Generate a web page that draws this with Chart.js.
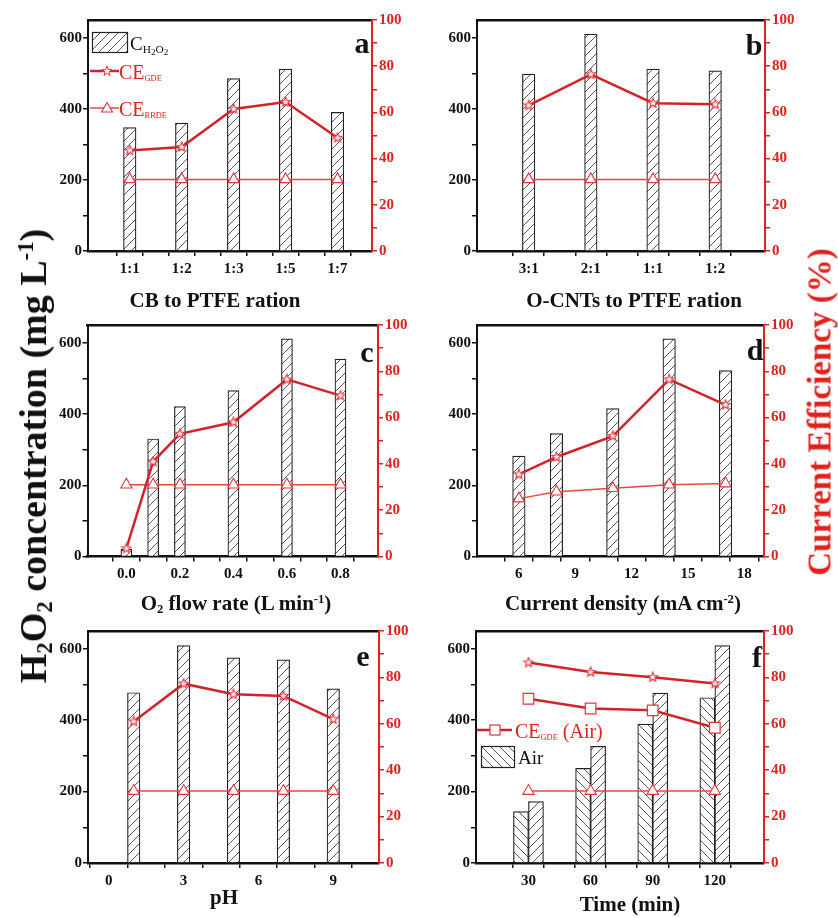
<!DOCTYPE html>
<html><head><meta charset="utf-8">
<script src="https://cdn.jsdelivr.net/npm/chart.js@4.4.1/dist/chart.umd.min.js"></script>
<style>
body{margin:0;background:#fff;width:838px;height:918px;overflow:hidden;position:relative;font-family:'Liberation Serif','Times New Roman',serif;}
canvas{position:absolute;}
.t{position:absolute;white-space:nowrap;line-height:1;color:#111;}
.b{font-weight:bold;}
.c{transform:translate(-50%,-50%);}
.l{transform:translateY(-50%);}
.rot{transform:translate(-50%,-50%) rotate(-90deg);}
.red{color:#e3211c;}
sub,sup{font-size:0.6em;line-height:0;}
sub{vertical-align:-0.25em;}
sup{vertical-align:0.55em;}
sub sub{font-size:0.8em;}
.ce sub{font-size:0.42em;}
svg{position:absolute;overflow:visible;}
</style></head>
<body>
<canvas id="pa"></canvas><canvas id="pb"></canvas><canvas id="pc"></canvas>
<canvas id="pd"></canvas><canvas id="pe"></canvas><canvas id="pf"></canvas>

<div class="t b c" style="left:215px;top:300px;font-size:21px">CB to PTFE ration</div>
<div class="t b c" style="left:634px;top:300px;font-size:21px">O-CNTs to PTFE ration</div>
<div class="t b c" style="left:236px;top:603px;font-size:21px">O<sub>2</sub> flow rate (L min<sup>-1</sup>)</div>
<div class="t b c" style="left:623px;top:603px;font-size:21px">Current density (mA cm<sup>-2</sup>)</div>
<div class="t b c" style="left:224px;top:897px;font-size:21px">pH</div>
<div class="t b c" style="left:630px;top:904px;font-size:21px">Time (min)</div>

<div class="t b c" style="left:362px;top:43px;font-size:30px">a</div>
<div class="t b c" style="left:754px;top:45px;font-size:30px">b</div>
<div class="t b c" style="left:367px;top:352px;font-size:30px">c</div>
<div class="t b c" style="left:755px;top:350px;font-size:30px">d</div>
<div class="t b c" style="left:363px;top:656px;font-size:30px">e</div>
<div class="t b c" style="left:757px;top:657px;font-size:30px">f</div>

<div class="t b rot" style="left:33px;top:456px;font-size:38px">H<sub>2</sub>O<sub>2</sub> concentration (mg L<sup>-1</sup>)</div>
<div class="t b rot red" style="left:820px;top:412px;font-size:33px">Current Efficiency (%)</div>

<!-- legend a -->
<svg width="0" height="0"><defs>
<pattern id="hf" width="9" height="9" patternUnits="userSpaceOnUse"><rect width="9" height="9" fill="#fff"/><path d="M0 9L9 0M-1 1L1 -1M8 10L10 8" stroke="#444" stroke-width="0.9"/></pattern>
<pattern id="hb" width="9" height="9" patternUnits="userSpaceOnUse"><rect width="9" height="9" fill="#fff"/><path d="M0 0L9 9M-1 8L1 10M8 -1L10 1" stroke="#444" stroke-width="0.9"/></pattern>
</defs></svg>
<svg style="left:92px;top:32px" width="36" height="21"><rect x="0.5" y="0.5" width="35" height="20" fill="url(#hf)" stroke="#222" stroke-width="1.2"/></svg>
<div class="t" style="left:130px;top:43px;font-size:19px;transform:translateY(-50%)">C<sub>H<sub>2</sub>O<sub>2</sub></sub></div>
<svg style="left:90px;top:64px" width="30" height="14"><line x1="0" y1="7" x2="29" y2="7" stroke="#d3232a" stroke-width="2.5"/><polygon points="17,2 18.3,5.6 22,5.6 19,7.9 20.1,11.5 17,9.3 13.9,11.5 15,7.9 12,5.6 15.7,5.6" fill="#fff0f0" stroke="#e8323c" stroke-width="1"/></svg>
<div class="t red ce" style="left:119px;top:72px;font-size:20px;transform:translateY(-50%)">CE<sub>GDE</sub></div>
<svg style="left:90px;top:100px" width="30" height="16"><line x1="0" y1="8" x2="29" y2="8" stroke="#e8463f" stroke-width="1.5"/><polygon points="17,2.5 22.5,12 11.5,12" fill="#fff" stroke="#e8323c" stroke-width="1.1"/></svg>
<div class="t red ce" style="left:119px;top:109px;font-size:20px;transform:translateY(-50%)">CE<sub>RRDE</sub></div>

<!-- legend f -->
<svg style="left:477px;top:722px" width="36" height="16"><line x1="0" y1="8" x2="35" y2="8" stroke="#d3232a" stroke-width="2.5"/><rect x="13" y="3" width="10" height="10" fill="#fff" stroke="#e8323c" stroke-width="1.2"/></svg>
<div class="t red ce" style="left:515px;top:731px;font-size:20px;transform:translateY(-50%)">CE<sub>GDE</sub> (Air)</div>
<svg style="left:481px;top:746px" width="34" height="22"><rect x="0.5" y="0.5" width="33" height="21" fill="url(#hb)" stroke="#222" stroke-width="1.2"/></svg>
<div class="t" style="left:518px;top:757px;font-size:19px;transform:translateY(-50%)">Air</div>

<script>
// ---------------- data ----------------
const concTicks = [0, 200, 400, 600];
const concMinor = [100, 300, 500];
const ceTicks = [0, 20, 40, 60, 80, 100];
const ceMinor = [10, 30, 50, 70, 90];

// (a) CB to PTFE ratio
const aCategories = ['1:1', '1:2', '1:3', '1:5', '1:7'];
const aConc = [347, 360, 485, 512, 390];
const aCEgde = [43.5, 45, 61.5, 64.5, 49];
const aCErrde = [31, 31, 31, 31, 31];
const aMinor = [1.5, 2.5, 3.5, 4.5];

// (b) O-CNTs to PTFE ratio
const bCategories = ['3:1', '2:1', '1:1', '1:2'];
const bConc = [498, 610, 512, 507];
const bCEgde = [63, 76.5, 64, 63.5];
const bCErrde = [31, 31, 31, 31];
const bMinor = [1.5, 2.5, 3.5];

// (c) O2 flow rate
const cFlow = [0, 0.1, 0.2, 0.4, 0.6, 0.8];
const cConc = [20, 330, 421, 466, 611, 554];
const cCEgde = [3.5, 41, 53, 58, 76.5, 69.5];
const cCErrde = [31, 31, 31, 31, 31, 31];
const cTicks = [0, 0.2, 0.4, 0.6, 0.8];
const cMinor = [0.1, 0.3, 0.5, 0.7];

// (d) current density
const dCurrent = [6, 8, 11, 14, 17];
const dConc = [282, 345, 415, 611, 522];
const dCEgde = [35.5, 43, 52, 76.5, 65.5];
const dCErrde = [25, 28, 29.5, 31, 31.5];
const dTicks = [6, 9, 12, 15, 18];
const dMinor = [7.5, 10.5, 13.5, 16.5];

// (e) pH
const ePH = [1, 3, 5, 7, 9];
const eConc = [477, 609, 575, 569, 488];
const eCEgde = [61, 77.3, 72.7, 72, 62];
const eCErrde = [31, 31, 31, 31, 31];
const eTicks = [0, 3, 6, 9];
const eMinor = [1.5, 4.5, 7.5];

// (f) time
const fTime = [30, 60, 90, 120];
const fConcAir = [144, 265, 389, 463];
const fConcO2 = [172, 327, 476, 609];
const fCEgdeO2 = [86.4, 82.3, 80.1, 77.4];
const fCEgdeAir = [70.8, 66.6, 65.8, 58.3];
const fCErrde = [31, 31, 31, 31];
const fTicks = [30, 60, 90, 120];
const fMinor = [45, 75, 105];

// ---------------- styling helpers ----------------
const FONT = "'Liberation Serif','Times New Roman',serif";
const RED = '#e3211c';
const GDE = '#d3232a';
const RRDE = '#e8463f';
const MK = '#e8323c';

function hatch(dir) {
  const c = document.createElement('canvas');
  c.width = c.height = 9;
  const g = c.getContext('2d');
  g.fillStyle = '#fff'; g.fillRect(0, 0, 9, 9);
  g.strokeStyle = '#444'; g.lineWidth = 0.9;
  g.beginPath();
  if (dir > 0) { g.moveTo(0, 9); g.lineTo(9, 0); g.moveTo(-1, 1); g.lineTo(1, -1); g.moveTo(8, 10); g.lineTo(10, 8); }
  else { g.moveTo(0, 0); g.lineTo(9, 9); g.moveTo(-1, 8); g.lineTo(1, 10); g.moveTo(8, -1); g.lineTo(10, 1); }
  g.stroke();
  return g.createPattern(c, 'repeat');
}
function starImg(size) {
  const c = document.createElement('canvas');
  c.width = c.height = size;
  const g = c.getContext('2d');
  const cx = size / 2, cy = size / 2, R = size / 2 - 1, r = R * 0.45;
  g.beginPath();
  for (let i = 0; i < 10; i++) {
    const a = -Math.PI / 2 + i * Math.PI / 5;
    const rr = i % 2 ? r : R;
    g.lineTo(cx + rr * Math.cos(a), cy + rr * Math.sin(a));
  }
  g.closePath();
  g.fillStyle = '#fff0f0'; g.fill();
  g.strokeStyle = MK; g.lineWidth = 1.1; g.stroke();
  return c;
}
const FWD = hatch(1), BACK = hatch(-1), STAR = starImg(12);

function pts(xs, ys) { return xs.map((x, i) => ({ x: x, y: ys[i] })); }
function barDS(xs, ys, pat, thick) {
  return { type: 'bar', data: pts(xs, ys), backgroundColor: pat, borderColor: '#222', borderWidth: 1.2,
           barThickness: thick, yAxisID: 'y', order: 2 };
}
function gdeLine(xs, ys, style) {
  return { type: 'line', data: pts(xs, ys), borderColor: GDE, borderWidth: 2.5, tension: 0, yAxisID: 'y2', order: 1,
           pointStyle: style || STAR, pointRadius: style ? 7.5 : 6, pointBorderColor: MK, pointBackgroundColor: '#fff',
           pointBorderWidth: 1.2 };
}
function rrdeLine(xs, ys) {
  return { type: 'line', data: pts(xs, ys), borderColor: RRDE, borderWidth: 1.5, tension: 0, yAxisID: 'y2', order: 1,
           pointStyle: 'triangle', pointRadius: 6.5, pointBorderColor: MK, pointBackgroundColor: '#fff', pointBorderWidth: 1.1 };
}
function setTicks(list) { return (s) => { s.ticks = list.map(v => ({ value: v })); }; }

function panel(id, box, area, cfg) {
  const cv = document.getElementById(id);
  cv.width = box.w; cv.height = box.h;
  cv.style.left = box.x + 'px'; cv.style.top = box.y + 'px';
  const yl = area.l - box.x, yr = box.x + box.w - area.r, pt = area.t - box.y, xh = box.y + box.h - area.b;
  const font = { family: FONT, weight: 'bold', size: 15 };
  const xAll = cfg.xMajor.concat(cfg.xMinor).sort((a, b) => a - b);
  new Chart(cv, {
    type: 'bar',
    data: { datasets: cfg.datasets },
    options: {
      responsive: false, animation: false, events: [], devicePixelRatio: 1,
      layout: { padding: { top: pt, left: 0, right: 0, bottom: 0 } },
      plugins: { legend: { display: false }, tooltip: { enabled: false } },
      scales: {
        x: { type: 'linear', position: 'bottom', min: cfg.xMin, max: cfg.xMax,
             afterBuildTicks: setTicks(xAll), afterFit: (s) => { s.height = xh; },
             grid: { display: true, drawOnChartArea: false, drawTicks: true, tickLength: 5, color: '#111', lineWidth: 1.5 },
             border: { display: true, color: '#111', width: 2.5 },
             ticks: { autoSkip: false, maxRotation: 0, padding: 4, color: '#111', font: font,
                      callback: (v) => cfg.xMajor.includes(v) ? cfg.xLabel(v) : '' } },
        xTop: { type: 'linear', position: 'top', min: 0, max: 1, display: true,
                afterFit: (s) => { s.height = 0; },
                ticks: { display: false }, grid: { display: false, drawTicks: false },
                border: { display: true, color: '#111', width: 2.5 } },
        y: { type: 'linear', position: 'left', min: 0, max: 650,
             afterBuildTicks: setTicks(concTicks.concat(concMinor).sort((a, b) => a - b)),
             afterFit: (s) => { s.width = yl; },
             grid: { display: true, drawOnChartArea: false, drawTicks: true, tickLength: 5, color: '#111', lineWidth: 1.5 },
             border: { display: true, color: '#111', width: 2 },
             ticks: { autoSkip: false, padding: 1, color: '#111', font: font,
                      callback: (v) => concTicks.includes(v) ? String(v) : '' } },
        y2: { type: 'linear', position: 'right', min: 0, max: 100,
              afterBuildTicks: setTicks(ceTicks.concat(ceMinor).sort((a, b) => a - b)),
              afterFit: (s) => { s.width = yr; },
              grid: { display: true, drawOnChartArea: false, drawTicks: true, tickLength: 5, color: RED, lineWidth: 1.5 },
              border: { display: true, color: RED, width: 2 },
              ticks: { autoSkip: false, padding: 2, color: RED, font: font,
                       callback: (v) => ceTicks.includes(v) ? String(v) : '' } }
      }
    }
  });
}

const aX = aCategories.map((c, i) => i + 1);
const bX = bCategories.map((c, i) => i + 1);

panel('pa', { x: 40, y: 0, w: 380, h: 285 }, { l: 88, r: 372, t: 20, b: 251 }, {
  xMin: 0.5, xMax: 5.36, xMajor: aX, xMinor: aMinor, xLabel: (v) => aCategories[v - 1],
  datasets: [barDS(aX, aConc, FWD, 12.5), gdeLine(aX, aCEgde), rrdeLine(aX, aCErrde)]
});
panel('pb', { x: 425, y: 0, w: 385, h: 285 }, { l: 477, r: 765, t: 20, b: 251 }, {
  xMin: 0.5, xMax: 4.47, xMajor: bX, xMinor: bMinor, xLabel: (v) => bCategories[v - 1],
  datasets: [barDS(bX, bConc, FWD, 12.5), gdeLine(bX, bCEgde), rrdeLine(bX, bCErrde)]
});
panel('pc', { x: 40, y: 300, w: 380, h: 290 }, { l: 87.5, r: 378, t: 325, b: 556.5 }, {
  xMin: -0.085, xMax: 0.88, xMajor: cTicks, xMinor: cMinor, xLabel: (v) => v.toFixed(1),
  datasets: [barDS(cFlow, cConc, FWD, 11), gdeLine(cFlow, cCEgde), rrdeLine(cFlow, cCErrde)]
});
panel('pd', { x: 425, y: 300, w: 385, h: 290 }, { l: 477, r: 764, t: 325, b: 556.5 }, {
  xMin: 4.62, xMax: 18.2, xMajor: dTicks, xMinor: dMinor, xLabel: (v) => String(v),
  datasets: [barDS(dCurrent, dConc, FWD, 12.5), gdeLine(dCurrent, dCEgde), rrdeLine(dCurrent, dCErrde)]
});
panel('pe', { x: 40, y: 610, w: 380, h: 285 }, { l: 88, r: 379, t: 631, b: 863 }, {
  xMin: 0, xMax: 10, xMajor: eTicks, xMinor: eMinor, xLabel: (v) => String(v),
  datasets: [barDS(ePH, eConc, FWD, 12.5), gdeLine(ePH, eCEgde), rrdeLine(ePH, eCErrde)]
});
panel('pf', { x: 425, y: 610, w: 385, h: 285 }, { l: 476, r: 764, t: 631, b: 863 }, {
  xMin: 14.6, xMax: 133.8, xMajor: fTicks, xMinor: fMinor, xLabel: (v) => String(v),
  datasets: [barDS(fTime, fConcAir, BACK, 15), barDS(fTime, fConcO2, FWD, 15),
             gdeLine(fTime, fCEgdeO2), gdeLine(fTime, fCEgdeAir, 'rect'), rrdeLine(fTime, fCErrde)]
});
</script>
</body></html>
